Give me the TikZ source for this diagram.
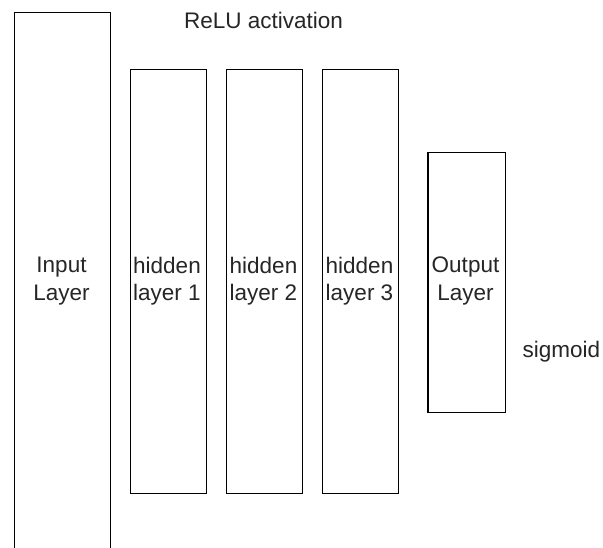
\documentclass[tikz,border=0pt]{standalone}
\usepackage{fontspec}
\setmainfont{Liberation Sans}
\begin{document}
\begin{tikzpicture}[x=1pt,y=-1pt,
  layerbox/.style={draw=black,line width=1.2pt,fill=white,inner sep=0pt},
  lbl/.style={font=\fontsize{22.5}{27.5}\selectfont,align=center,inner sep=0pt,text=black!85}]
\useasboundingbox (0,0) rectangle (603,548);
\clip (0,0) rectangle (603,548);
\fill[white] (0,0) rectangle (603,548);
\node[layerbox,minimum width=96pt,minimum height=560pt,anchor=north west] (in) at (14,12.3) {};
\node[layerbox,minimum width=76.5pt,minimum height=423.4pt,anchor=north west] (h1) at (129.5,69.3) {};
\node[layerbox,minimum width=76.5pt,minimum height=423.4pt,anchor=north west] (h2) at (225.7,69.3) {};
\node[layerbox,minimum width=76.5pt,minimum height=423.4pt,anchor=north west] (h3) at (321.7,69.3) {};
\node[layerbox,minimum width=77.7pt,minimum height=260pt,anchor=north west] (out) at (427.3,151.7) {};
\node[lbl] (tin) at (61.5,281) {Input\\Layer};
\node[lbl] (th1) at (167,281) {hidden\\layer 1};
\node[lbl] (th2) at (263.5,281) {hidden\\layer 2};
\node[lbl] (th3) at (359.5,281) {hidden\\layer 3};
\node[lbl] (tout) at (465.5,281) {Output\\Layer};
\node[lbl,anchor=base] (relu) at (263.5,28.3) {ReLU activation};
\node[lbl,anchor=base] (sig) at (561.5,357) {sigmoid};
\end{tikzpicture}
\end{document}
